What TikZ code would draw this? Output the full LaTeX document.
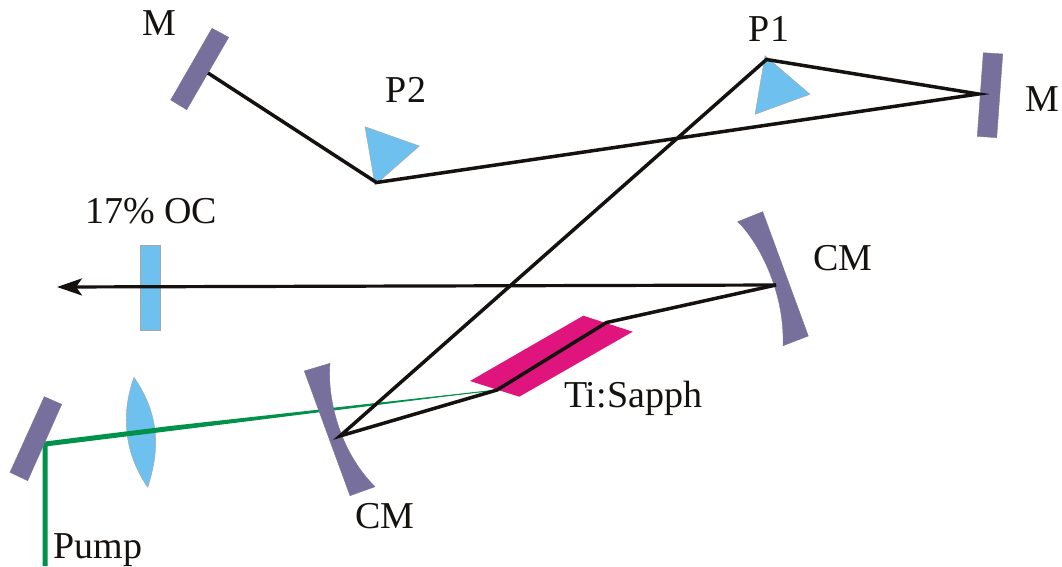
\documentclass[tikz,border=0pt]{standalone}
\usepackage{fontspec}
\setmainfont{Liberation Serif}
\usetikzlibrary{arrows.meta}
\definecolor{mirrorc}{HTML}{77709C}
\definecolor{glassc}{HTML}{6EC1EE}
\definecolor{crystalc}{HTML}{DF147D}
\definecolor{pumpc}{HTML}{00924A}
\definecolor{beamc}{HTML}{15110F}
\tikzset{
  mirror/.style={fill=mirrorc,draw=mirrorc!80!gray,line width=0.4pt},
  glass/.style={fill=glassc,draw=gray!70,line width=0.4pt},
  crystal/.style={fill=crystalc},
  beam/.style={draw=beamc,line width=3.5pt,line join=miter},
  pump/.style={draw=pumpc,line width=5pt,line join=miter},
  lab/.style={font=\fontsize{38}{38}\selectfont,text=beamc,inner sep=0pt,anchor=base}
}
\begin{document}
\begin{tikzpicture}[x=1pt,y=-1pt]
\useasboundingbox (0,0) rectangle (1062,566);
% beam junctions
\coordinate (mtl) at (208,73);
\coordinate (p2v) at (376.5,182.5);
\coordinate (mr) at (978.5,94);
\coordinate (p1v) at (766.5,59.5);
\coordinate (cml) at (340,436);
\coordinate (xa) at (497,390);
\coordinate (xb) at (606.5,322.5);
\coordinate (cmr) at (776,285);
\coordinate (out) at (57,287);
\coordinate (pin) at (45,566);
\coordinate (pm) at (45,444);
\coordinate (pl) at (170,428.5);
\coordinate (pc) at (318,410);
% prisms, crystal, output coupler, lens
\fill[glass] (365,126.7) -- (419.3,146) -- (375,185) -- cycle;
\fill[glass] (765,55.7) -- (810,94.3) -- (755,114.3) -- cycle;
\fill[glass] (140,245) rectangle (160,330);
\fill[glass] (134,377.3) .. controls (122,410) and (122,450) .. (147.7,487.3) .. controls (160,450) and (160,415) .. (134,377.3) -- cycle;
\fill[crystal] (583.3,315.7) -- (632.7,331.7) -- (519.3,396.7) -- (470,381) -- cycle;
% pump
\draw[pump] (pin) -- (pm) -- (pl);
\fill[pumpc] (170,426) -- (xa) -- (170,431) -- cycle;
\draw[pumpc,line width=1pt] (pc) -- (xa);
% mirrors
\fill[mirror] (212,28.3) -- (228.7,37.3) -- (186.7,109.7) -- (170.7,100) -- cycle;
\fill[mirror] (983.3,52.7) -- (1002.7,54) -- (996.7,137.7) -- (977.3,136.3) -- cycle;
\fill[mirror] (44.3,396.7) -- (61.7,404.3) -- (27.7,480.7) -- (10,472.3) -- cycle;
\fill[mirror] (737.7,221.7) -- (762.7,211.7) -- (808.3,336) -- (783,345.7) .. controls (785,290) and (757,240) .. (737.7,221.7) -- cycle;
\fill[mirror] (304.3,371) -- (330,363.3) .. controls (327,395) and (338,450) .. (375,486.7) -- (350,495.7) -- cycle;
% cavity beam
\draw[beam] (mtl) -- (p2v) -- (mr) -- (p1v) -- (cml) -- (xa) -- (xb) -- (cmr);
\draw[beam,line width=3.2pt,-{Stealth[length=25pt,width=17pt,inset=6pt]}] (cmr) -- (out);
% labels
\node[lab] (lm1) at (159,35) {M};
\node[lab] (lp2) at (406,102) {P2};
\node[lab] (lp1) at (769,41) {P1};
\node[lab] (lm2) at (1042,111) {M};
\node[lab] (loc) at (151,223) {17\% OC};
\node[lab] (lcm1) at (843,270) {CM};
\node[lab] (lcm2) at (385,528) {CM};
\node[lab] (lti) at (633,407) {Ti:Sapph};
\node[lab] (lpu) at (98,558) {Pump};
\end{tikzpicture}
\end{document}
